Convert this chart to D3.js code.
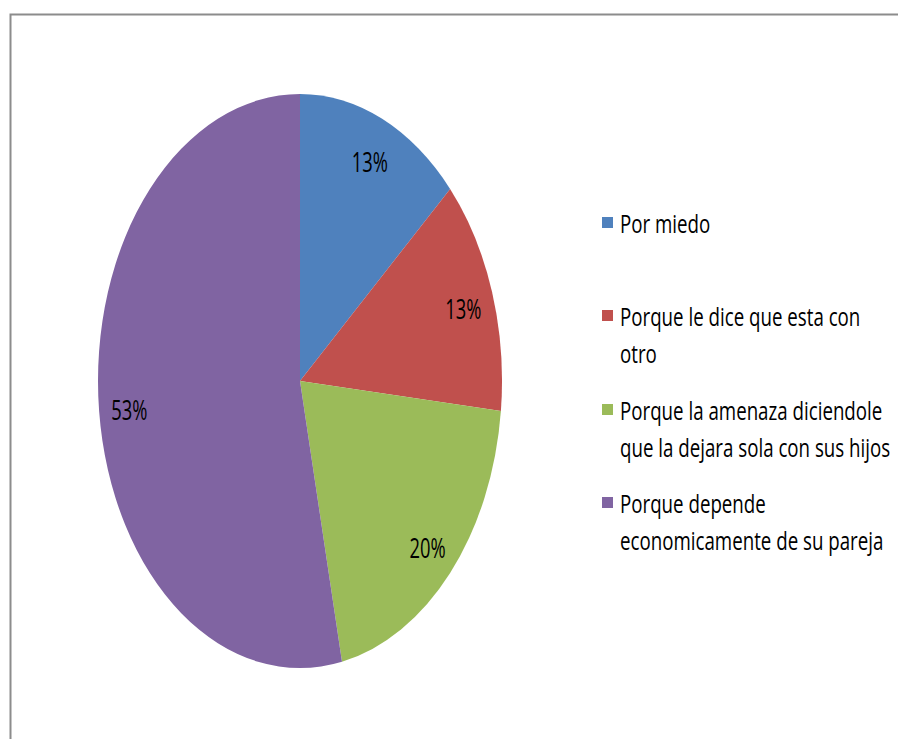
<!DOCTYPE html>
<html>
<head>
<meta charset="utf-8">
<script src="https://cdn.jsdelivr.net/npm/d3@7"></script>
<style>
  body { margin: 0; background: #fff; }
  svg { display: block; }
  text { font-family: "Open Sans", sans-serif; fill: #000; }
</style>
</head>
<body>
<svg></svg>
<script>
const width = 898;
const height = 739;

const categories = [
    "Por miedo",
    "Porque le dice que esta con otro",
    "Porque la amenaza diciendole que la dejara sola con sus hijos",
    "Porque depende economicamente de su pareja"
];
const legendLines = [
    ["Por miedo"],
    ["Porque le dice que esta con", "otro"],
    ["Porque la amenaza diciendole", "que la dejara sola con sus hijos"],
    ["Porque depende", "economicamente de su pareja"]
];
const values = [2, 2, 3, 8];
const colors = ["#4F81BD", "#C0504D", "#9BBB59", "#8064A2"];

const cx = 300, cy = 381;
const rx = 202, ry = 287;

const svg = d3.select("svg")
    .attr("width", width)
    .attr("height", height);

// frame
svg.append("path")
    .attr("d", `M10.5,${height} V14.5 H${width}`)
    .attr("fill", "none")
    .attr("stroke", "#8c8c8c")
    .attr("stroke-width", 2);

const total = d3.sum(values);
const pie = d3.pie().sort(null)(values);
const arc = d3.arc().innerRadius(0).outerRadius(ry);

svg.append("g")
    .attr("transform", `translate(${cx},${cy}) scale(${rx / ry},1)`)
    .selectAll("path")
    .data(pie)
    .enter()
    .append("path")
    .attr("d", arc)
    .attr("fill", (d, i) => colors[i]);

const labelArc = d3.arc().innerRadius(ry * 0.85).outerRadius(ry * 0.85);

svg.append("g")
    .selectAll("text")
    .data(pie)
    .enter()
    .append("text")
    .attr("transform", d => {
        const c = labelArc.centroid(d);
        return `translate(${cx + c[0] * rx / ry},${cy + c[1] + 3}) scale(0.68,1)`;
    })
    .attr("text-anchor", "middle")
    .attr("dominant-baseline", "central")
    .style("font-size", "27px")
    .text(d => Math.round(d.value / total * 100) + "%");

const legendY = [223, 316, 410, 503];
const lineGap = 37;

const legend = svg.append("g")
    .selectAll("g")
    .data(categories)
    .enter()
    .append("g")
    .attr("transform", (d, i) => `translate(602,${legendY[i]})`);

legend.append("rect")
    .attr("x", 0)
    .attr("y", -6)
    .attr("width", 11)
    .attr("height", 11)
    .attr("fill", (d, i) => colors[i]);

legend.each(function(d, i) {
    const g = d3.select(this);
    legendLines[i].forEach((line, j) => {
        g.append("text")
            .attr("transform", `translate(18,${j * lineGap}) scale(0.72,1)`)
            .attr("dominant-baseline", "central")
            .style("font-size", "26px")
            .text(line);
    });
});
</script>
</body>
</html>
